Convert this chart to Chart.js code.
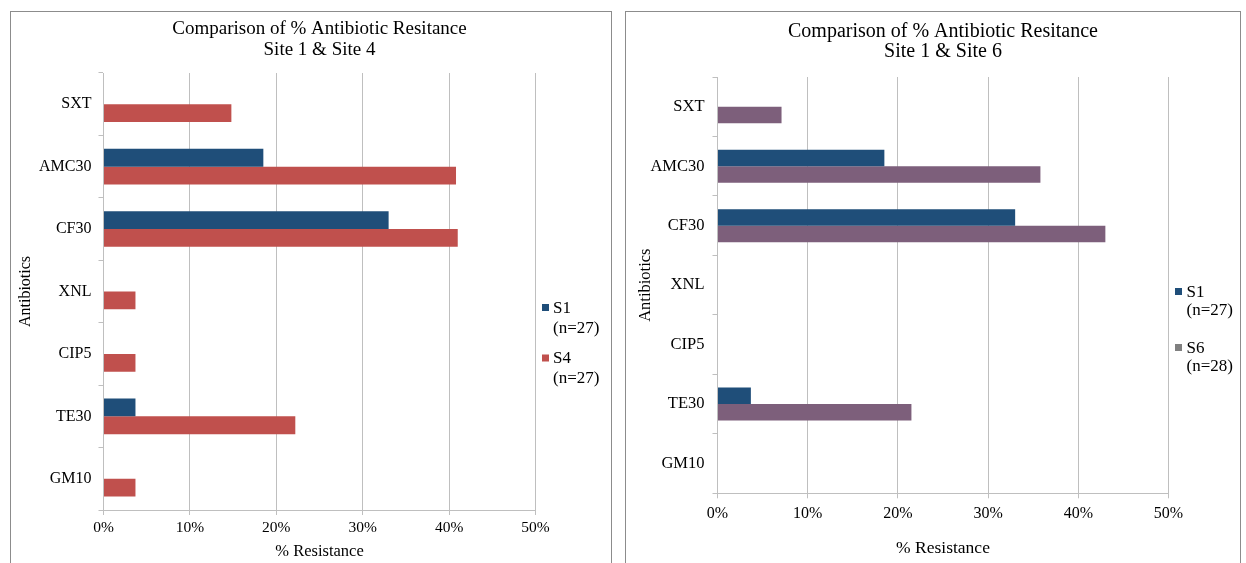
<!DOCTYPE html>
<html>
<head>
<meta charset="utf-8">
<script src="https://cdn.jsdelivr.net/npm/chart.js@4.4.1/dist/chart.umd.min.js"></script>
<style>
  html, body { margin: 0; padding: 0; background: #fff; }
  body { width: 1246px; height: 563px; overflow: hidden; position: relative; }
  .panel { position: absolute; border: 1px solid #8c8c8c; height: 600px; background: #fff; }
  .panel canvas { position: absolute; left: 0; top: 0; }
</style>
</head>
<body>
<div class="panel" style="left:10px;top:11px;width:600px;"><canvas id="site4Chart" width="600" height="551"></canvas></div>
<div class="panel" style="left:625px;top:11px;width:614px;"><canvas id="site6Chart" width="614" height="551"></canvas></div>
<script>
// data
const antibiotics = ["SXT", "AMC30", "CF30", "XNL", "CIP5", "TE30", "GM10"];
const site1 = [0, 18.5, 33.0, 0, 0, 3.7, 0];
const site4 = [14.8, 40.8, 41.0, 3.7, 3.7, 22.2, 3.7];
const site6 = [7.1, 35.8, 43.0, 0, 0, 21.5, 0];
const pctTicks = [0, 10, 20, 30, 40, 50];

const site1Label = ["S1", "(n=27)"];
const site4Label = ["S4", "(n=27)"];
const site6Label = ["S6", "(n=28)"];
const title4 = ["Comparison of % Antibiotic Resitance", "Site 1 & Site 4"];
const title6 = ["Comparison of % Antibiotic Resitance", "Site 1 & Site 6"];

const SERIF = "'Liberation Serif', 'Times New Roman', serif";
const blue = '#1F4E79';
const red = '#C0504D';
const purple = '#7D5F7B';
const gray = '#BFBFBF';

// legend on the right, two text lines per entry like Excel does
const sideLegend = (cfg) => ({
    id: 'sideLegend',
    afterDraw(chart) {
        const ctx = chart.ctx;
        ctx.save();
        ctx.font = `${cfg.size}px ${SERIF}`;
        ctx.textBaseline = 'middle';
        ctx.textAlign = 'left';
        chart.data.datasets.forEach((ds, i) => {
            const y = cfg.y + i * cfg.itemGap;
            ctx.fillStyle = cfg.boxColors[i] || ds.backgroundColor;
            ctx.fillRect(cfg.x, y - cfg.box / 2 - 1, cfg.box, cfg.box);
            ctx.fillStyle = '#000';
            ds.label.forEach((line, j) => ctx.fillText(line, cfg.textX, y + j * cfg.lineGap));
        });
        ctx.restore();
    }
});

const makeChart = (id, title, other, otherLabel, otherColor, g) =>
    new Chart(document.getElementById(id), {
        type: 'bar',
        data: {
            labels: antibiotics,
            datasets: [
                { label: site1Label, data: site1, backgroundColor: blue },
                { label: otherLabel, data: other, backgroundColor: otherColor }
            ]
        },
        options: {
            responsive: false,
            animation: false,
            indexAxis: 'y',
            categoryPercentage: g.catPct,
            barPercentage: 1,
            layout: { padding: { left: 0, right: g.rightPad, top: 0, bottom: 0 } },
            plugins: {
                legend: { display: false },
                tooltip: { enabled: false },
                title: {
                    display: true,
                    fullSize: false,
                    text: title,
                    color: '#000',
                    font: { family: SERIF, size: g.titleSize, weight: 'normal', lineHeight: g.titleLH },
                    padding: g.titlePad
                }
            },
            scales: {
                x: {
                    min: 0,
                    max: 50,
                    afterBuildTicks: (s) => { s.ticks = pctTicks.map((v) => ({ value: v })); },
                    afterFit: (s) => { s.height = g.xAxisH; },
                    ticks: {
                        callback: (v) => v + '%',
                        color: '#000',
                        padding: g.xTickPad,
                        font: { family: SERIF, size: g.xTickSize }
                    },
                    grid: { color: gray, tickLength: 5 },
                    border: { color: gray },
                    title: {
                        display: true,
                        text: '% Resistance',
                        color: '#000',
                        font: { family: SERIF, size: g.xTitleSize },
                        padding: { top: 0, bottom: g.xTitlePad }
                    }
                },
                y: {
                    afterFit: (s) => { s.width = g.yAxisW; },
                    ticks: {
                        color: '#000',
                        padding: g.yTickPad,
                        font: { family: SERIF, size: g.yTickSize }
                    },
                    grid: { drawOnChartArea: false, color: gray, tickLength: 5, offset: true },
                    border: { color: gray },
                    title: {
                        display: true,
                        text: 'Antibiotics',
                        color: '#000',
                        font: { family: SERIF, size: g.yTitleSize },
                        padding: { top: g.yTitlePad, bottom: 0 }
                    }
                }
            }
        },
        plugins: [sideLegend(g.legend)]
    });

makeChart('site4Chart', title4, site4, site4Label, red, {
    catPct: 0.57, rightPad: 75.5, yAxisW: 92.5, xAxisH: 53,
    titleSize: 19, titleLH: '21.5px', titlePad: { top: 6.25, bottom: 11.75 },
    xTickPad: 4, xTickSize: 15.5, xTitleSize: 16.5, xTitlePad: 1,
    yTickPad: 7, yTickSize: 16, yTitleSize: 16, yTitlePad: 5,
    legend: { x: 531, textX: 542, y: 296.5, lineGap: 20, itemGap: 50.5, size: 17, box: 7, boxColors: [] }
});

makeChart('site6Chart', title6, site6, site6Label, purple, {
    catPct: 0.555, rightPad: 71.5, yAxisW: 91.5, xAxisH: 69.7,
    titleSize: 20, titleLH: '20.5px', titlePad: { top: 9.25, bottom: 14.75 },
    xTickPad: 5.4, xTickSize: 16, xTitleSize: 17.5, xTitlePad: 4,
    yTickPad: 8, yTickSize: 16.5, yTitleSize: 16.5, yTitlePad: 10,
    legend: { x: 549, textX: 560.5, y: 280.5, lineGap: 18.5, itemGap: 56, size: 17, box: 7, boxColors: [null, '#808080'] }
});
</script>
</body>
</html>
